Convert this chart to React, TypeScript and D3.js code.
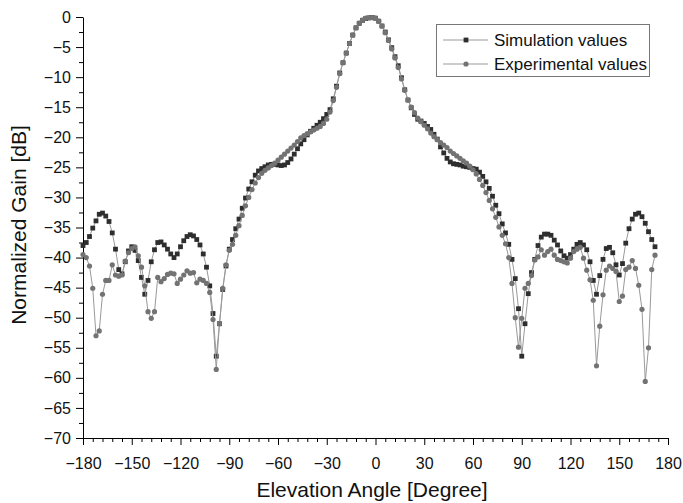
import { useEffect, useRef } from "react"
import * as d3 from "d3"

// elevation angle grid [deg]
const angles = [
  -180, -178, -176, -174, -172, -170, -168, -166, -164, -162, -160, -158, -156, -154, -152, -150,
  -148, -146, -144, -142, -140, -138, -136, -134, -132, -130, -128, -126, -124, -122, -120, -118,
  -116, -114, -112, -110, -108, -106, -104, -102, -100, -98, -96, -94, -92, -90, -88, -86,
  -84, -82, -80, -78, -76, -74, -72, -70, -68, -66, -64, -62, -60, -58, -56, -54,
  -52, -50, -48, -46, -44, -42, -40, -38, -36, -34, -32, -30, -28, -26, -24, -22,
  -20, -18, -16, -14, -12, -10, -8, -6, -4, -2, 0, 2, 4, 6, 8, 10,
  12, 14, 16, 18, 20, 22, 24, 26, 28, 30, 32, 34, 36, 38, 40, 42,
  44, 46, 48, 50, 52, 54, 56, 58, 60, 62, 64, 66, 68, 70, 72, 74,
  76, 78, 80, 82, 84, 86, 88, 90, 92, 94, 96, 98, 100, 102, 104, 106,
  108, 110, 112, 114, 116, 118, 120, 122, 124, 126, 128, 130, 132, 134, 136, 138,
  140, 142, 144, 146, 148, 150, 152, 154, 156, 158, 160, 162, 164, 166, 168, 170,
  172,
]

const simulation = [
  -38.0, -37.5, -36.5, -35.1, -33.9, -32.8, -32.6, -33.1, -34.0, -35.9, -38.6, -42.0, -42.7, -40.7, -38.9, -38.2,
  -38.8, -40.5, -43.3, -46.1, -43.8, -40.7, -38.7, -37.5, -37.4, -37.9, -38.6, -39.4, -40.0, -39.4, -38.2, -37.2,
  -36.5, -36.2, -36.4, -37.0, -37.9, -39.4, -41.6, -44.7, -49.3, -56.4, -51.0, -45.3, -41.4, -38.6, -37.0, -35.2,
  -33.6, -31.8, -30.1, -28.6, -27.4, -26.3, -25.6, -25.2, -24.9, -24.6, -24.5, -24.5, -24.6, -24.7, -24.6, -24.2,
  -23.6, -22.8, -21.9, -21.1, -20.4, -19.6, -19.0, -18.5, -18.0, -17.5, -16.9, -16.2, -15.4, -13.6, -11.5, -9.3,
  -7.6, -6.0, -4.4, -3.0, -1.8, -1.05, -0.55, -0.25, -0.15, -0.1, -0.2, -0.7, -1.5, -2.5, -3.8, -5.1,
  -6.6, -8.1, -10.1, -12.1, -13.8, -15.1, -16.2, -17.0, -17.3, -17.7, -18.2, -18.7, -19.5, -20.3, -21.6, -22.6,
  -23.5, -24.1, -24.4, -24.5, -24.6, -24.8, -24.9, -25.0, -25.2, -25.3, -25.8, -26.5, -27.4, -28.5, -29.8, -31.3,
  -32.7, -34.4, -35.9, -37.8, -40.3, -43.5, -48.5, -56.4, -51.0, -46.0, -42.5, -40.3, -38.0, -36.6, -36.1, -36.1,
  -36.3, -37.1, -37.9, -38.9, -39.7, -40.1, -39.5, -38.6, -37.8, -37.5, -37.9, -38.7, -40.7, -43.8, -46.1, -43.0,
  -40.3, -38.5, -38.3, -39.2, -41.2, -42.9, -41.0, -37.6, -35.2, -33.6, -32.8, -32.6, -33.2, -34.3, -35.7, -37.0,
  -38.2,
]

const experimental = [
  -39.5, -40.0, -41.4, -45.1, -53.0, -52.2, -46.1, -43.8, -43.8, -41.2, -42.9, -43.1, -42.9, -40.6, -39.2, -38.5,
  -38.2, -39.7, -41.6, -44.7, -49.0, -50.1, -49.0, -43.3, -44.0, -43.5, -42.8, -42.6, -42.7, -44.3, -43.6, -42.9,
  -42.2, -42.6, -42.5, -44.2, -43.6, -43.8, -44.3, -45.8, -50.3, -58.6, -51.0, -45.1, -41.2, -38.8, -37.8, -36.3,
  -34.7, -33.0, -31.4, -30.0, -28.7, -27.6, -26.7, -26.0, -25.5, -25.1, -24.7, -24.3, -23.8, -23.3, -22.8, -22.3,
  -21.8, -21.3, -20.7, -20.1, -19.7, -19.4, -19.1, -18.8, -18.5, -18.2, -17.7, -17.0, -15.8, -13.9, -11.7, -9.4,
  -7.6, -6.0, -4.4, -3.0, -1.8, -1.0, -0.5, -0.2, -0.1, -0.1, -0.2, -0.7, -1.5, -2.6, -3.9, -5.3,
  -6.8, -8.4, -10.3, -12.2, -13.8, -15.0, -15.9, -16.8, -17.4, -18.0, -18.6, -19.3, -19.9, -20.4, -20.9, -21.3,
  -21.7, -22.3, -22.7, -23.1, -23.5, -23.9, -24.3, -24.8, -25.4, -26.1, -27.0, -28.0, -29.2, -30.5, -31.9, -33.3,
  -34.9, -36.3, -37.7, -40.0, -44.3, -50.0, -54.9, -50.1, -45.1, -44.3, -43.0, -40.4, -39.9, -38.7, -39.6, -39.0,
  -38.6, -39.6, -40.3, -40.5, -40.7, -40.9, -40.1, -39.0, -38.6, -38.3, -40.1, -42.1, -43.7, -47.1, -58.0, -51.4,
  -46.2, -42.1, -41.4, -41.8, -42.3, -47.3, -46.4, -42.0, -41.6, -40.5, -41.8, -44.6, -48.6, -60.6, -55.0, -42.0,
  -39.6,
]

const xTicks = [-180, -150, -120, -90, -60, -30, 0, 30, 60, 90, 120, 150, 180]
const xMinorTicks = [
  -174, -168, -162, -156, -144, -138, -132, -126, -114, -108, -102, -96, -84, -78, -72, -66,
  -54, -48, -42, -36, -24, -18, -12, -6, 6, 12, 18, 24, 36, 42, 48, 54, 66, 72, 78, 84,
  96, 102, 108, 114, 126, 132, 138, 144, 156, 162, 168, 174,
]
const yTicks = [0, -5, -10, -15, -20, -25, -30, -35, -40, -45, -50, -55, -60, -65, -70]
const yMinorTicks = [-2.5, -7.5, -12.5, -17.5, -22.5, -27.5, -32.5, -37.5, -42.5, -47.5, -52.5, -57.5, -62.5, -67.5]
const seriesNames = ["Simulation values", "Experimental values"]

const FONT = "'Liberation Sans', Arial, Helvetica, sans-serif"

export default function App() {
  const svgRef = useRef<SVGSVGElement>(null)

  useEffect(() => {
    if (!svgRef.current) return
    const svg = d3.select(svgRef.current)
    svg.selectAll("*").remove()

    const x = d3.scaleLinear().domain([-180, 180]).range([83, 668])
    const y = d3.scaleLinear().domain([-70, 0]).range([438, 17])

    const simPts = angles.map((a, i) => ({ a, v: simulation[i] }))
    const expPts = angles.map((a, i) => ({ a, v: experimental[i] }))

    const line = d3
      .line<{ a: number; v: number }>()
      .x((d) => x(d.a))
      .y((d) => y(d.v))

    // minor ticks
    svg.append("g")
      .attr("transform", "translate(0,438)")
      .call(d3.axisBottom(x).tickValues(xMinorTicks).tickSize(4).tickSizeOuter(0).tickFormat(() => ""))
      .call((g) => g.select(".domain").remove())
      .attr("color", "#000")

    svg.append("g")
      .attr("transform", "translate(83,0)")
      .call(d3.axisLeft(y).tickValues(yMinorTicks).tickSize(4).tickSizeOuter(0).tickFormat(() => ""))
      .call((g) => g.select(".domain").remove())
      .attr("color", "#000")

    // major axes
    const xAxis = svg.append("g")
      .attr("transform", "translate(0,438)")
      .call(d3.axisBottom(x).tickValues(xTicks).tickSize(7).tickSizeOuter(0).tickPadding(13))
      .attr("color", "#000")
    xAxis.selectAll("text").style("font-size", "16px").style("font-family", FONT).attr("fill", "#111")

    const yAxis = svg.append("g")
      .attr("transform", "translate(83,0)")
      .call(d3.axisLeft(y).tickValues(yTicks).tickSize(7).tickSizeOuter(0).tickPadding(5))
      .attr("color", "#000")
    yAxis.selectAll("text").style("font-size", "16px").style("font-family", FONT).attr("fill", "#111")

    // Simulation
    svg.append("path")
      .datum(simPts)
      .attr("fill", "none")
      .attr("stroke", "#999")
      .attr("stroke-width", 1)
      .attr("d", line)

    svg.append("g")
      .selectAll("rect")
      .data(simPts)
      .join("rect")
      .attr("x", (d) => x(d.a) - 2.4)
      .attr("y", (d) => y(d.v) - 2.4)
      .attr("width", 4.8)
      .attr("height", 4.8)
      .attr("fill", "#2e2e2e")

    // Experimental
    svg.append("path")
      .datum(expPts)
      .attr("fill", "none")
      .attr("stroke", "#999")
      .attr("stroke-width", 1)
      .attr("d", line)

    svg.append("g")
      .selectAll("circle")
      .data(expPts)
      .join("circle")
      .attr("cx", (d) => x(d.a))
      .attr("cy", (d) => y(d.v))
      .attr("r", 2.6)
      .attr("fill", "#737373")

    // axis titles
    svg.append("text")
      .attr("x", 372)
      .attr("y", 497)
      .attr("text-anchor", "middle")
      .style("font-family", FONT)
      .style("font-size", "21px")
      .attr("fill", "#111")
      .text("Elevation Angle [Degree]")

    svg.append("text")
      .attr("transform", "translate(26,225) rotate(-90)")
      .attr("text-anchor", "middle")
      .style("font-family", FONT)
      .style("font-size", "21px")
      .attr("fill", "#111")
      .text("Normalized Gain [dB]")

    // legend
    const lg = svg.append("g")
    lg.append("rect")
      .attr("x", 436.5)
      .attr("y", 24.5)
      .attr("width", 213)
      .attr("height", 52)
      .attr("fill", "#fff")
      .attr("stroke", "#777")
      .attr("stroke-width", 1)

    seriesNames.forEach((name, i) => {
      const ly = 40 + i * 24
      lg.append("line")
        .attr("x1", 443)
        .attr("x2", 488)
        .attr("y1", ly)
        .attr("y2", ly)
        .attr("stroke", "#999")
        .attr("stroke-width", 1)
      if (i === 0) {
        lg.append("rect").attr("x", 463.6).attr("y", ly - 2.4).attr("width", 4.8).attr("height", 4.8).attr("fill", "#2e2e2e")
      } else {
        lg.append("circle").attr("cx", 466).attr("cy", ly).attr("r", 2.6).attr("fill", "#737373")
      }
      lg.append("text")
        .attr("x", 494)
        .attr("y", ly)
        .attr("dy", "0.35em")
        .style("font-family", FONT)
        .style("font-size", "17px")
        .attr("fill", "#111")
        .text(name)
    })
  }, [])

  return (
    <svg
      ref={svgRef}
      width={683}
      height={503}
      style={{ position: "absolute", left: 0, top: 0, background: "#fff" }}
    />
  )
}
